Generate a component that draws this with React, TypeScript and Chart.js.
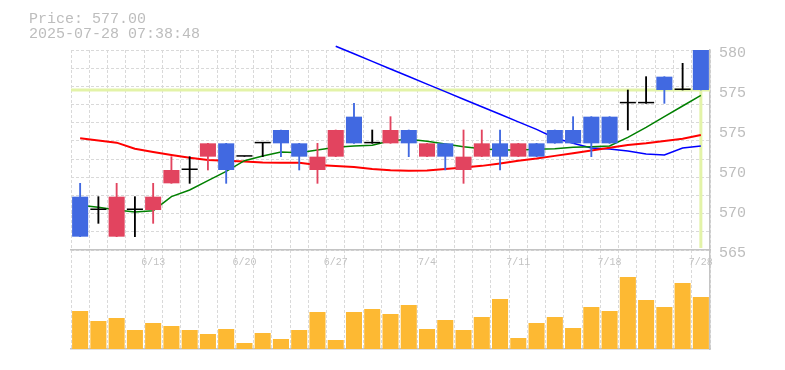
import React, { useEffect, useRef } from 'react';
import { Chart, registerables } from 'chart.js';

Chart.register(...registerables);

// ---------------- data ----------------
const dates = [
  '6/9', '6/10', '6/11', '6/12', '6/13', '6/16', '6/17', '6/18', '6/19', '6/20',
  '6/23', '6/24', '6/25', '6/26', '6/27', '6/30', '7/1', '7/2', '7/3', '7/4',
  '7/7', '7/8', '7/9', '7/10', '7/11', '7/14', '7/15', '7/16', '7/17', '7/18',
  '7/22', '7/23', '7/24', '7/25', '7/28',
];
const tickDates = ['6/13', '6/20', '6/27', '7/4', '7/11', '7/18', '7/28'];

const opens = [
  569, 568, 566, 568, 568, 570, 571, 572, 573, 572,
  573, 574, 573, 571, 572, 575, 573, 573, 574, 572,
  573, 571, 572, 573, 572, 573, 574, 574, 575, 575,
  576, 576, 578, 577, 580,
];
const highs = [
  570, 569, 570, 569, 570, 572, 572, 573, 573, 572,
  573, 574, 573, 573, 574, 576, 574, 575, 574, 573,
  573, 574, 574, 574, 573, 573, 574, 575, 575, 575,
  577, 578, 578, 579, 580,
];
const lows = [
  566, 567, 566, 566, 567, 570, 570, 571, 570, 572,
  572, 572, 571, 570, 572, 573, 573, 573, 572, 572,
  571, 570, 572, 571, 572, 572, 573, 573, 572, 573,
  574, 576, 576, 577, 577,
];
const closes = [
  566, 568, 569, 568, 569, 571, 571, 573, 571, 572,
  573, 573, 572, 572, 574, 573, 573, 574, 573, 573,
  572, 572, 573, 572, 573, 572, 573, 573, 573, 573,
  576, 576, 577, 577, 577,
];

const maShort = [
  568.35, 568.2, 568.0, 567.85, 567.95, 569.0, 569.5, 570.2, 570.9, 571.7,
  572.05, 572.35, 572.3, 572.5, 572.7, 572.8, 572.85, 573.2, 573.3, 573.15,
  572.95, 572.75, 572.6, 572.5, 572.5, 572.55, 572.6, 572.7, 572.75, 572.8,
  573.45, 574.2, 575.0, 575.8, 576.6,
];
const maMid = [
  573.38, 573.21, 573.05, 572.6, 572.35, 572.13, 571.92, 571.75, 571.7, 571.64,
  571.56, 571.55, 571.55, 571.38, 571.3, 571.22, 571.07, 570.98, 570.95, 570.96,
  571.07, 571.19, 571.31, 571.49, 571.7, 571.86, 572.06, 572.25, 572.46, 572.67,
  572.88, 573.0, 573.18, 573.35, 573.63,
];
const maLong = [
  null, null, null, null, null, null, null, null, null, null,
  null, null, null, null, 580.28, 579.72, 579.15, 578.58, 578.01, 577.44,
  576.88, 576.31, 575.74, 575.18, 574.61, 574.05, 573.4, 573.0, 572.65, 572.58,
  572.43, 572.2, 572.13, 572.65, 572.8,
];

const volumes = [
  3800, 2800, 3100, 1900, 2600, 2300, 1900, 1500, 2000, 600,
  1600, 1000, 1900, 3700, 900, 3700, 4000, 3500, 4400, 2000,
  2900, 1900, 3200, 5000, 1100, 2600, 3200, 2100, 4200, 3800,
  7200, 4900, 4200, 6600, 5200,
];

const yTickValues = [565, 568, 571, 574, 577, 580];
const yTickLabels = ['565', '570', '570', '575', '575', '580'];
const currentPrice = 577.0;
const titleLines = ['Price: 577.00', '2025-07-28 07:38:48'];

const priceMin = 565;
const priceMax = 580;
const volumeMax = 9900;

// ---------------- styles ----------------
const UP = '#e2445f';
const DOWN = '#4169e1';
const FLAT = '#000000';
const GRID = '#d9d9d9';
const AXIS = '#c4c4c4';
const TEXT = '#bdbdbd';
const MONO = '"Liberation Mono", "DejaVu Sans Mono", monospace';

const candleColors = dates.map((_, i) =>
  closes[i] > opens[i] ? UP : closes[i] < opens[i] ? DOWN : FLAT
);

const currentPricePlugin = {
  id: 'currentPrice',
  beforeDatasetsDraw(chart: any) {
    const { ctx, chartArea, scales } = chart;
    const y = scales.y.getPixelForValue(currentPrice);
    const x = scales.x.getPixelForValue(dates.length - 1);
    ctx.save();
    ctx.strokeStyle = '#e3f3a8';
    ctx.lineWidth = 3;
    ctx.beginPath();
    ctx.moveTo(chartArea.left, y);
    ctx.lineTo(chartArea.right, y);
    ctx.moveTo(x, y);
    ctx.lineTo(x, chartArea.bottom - 2);
    ctx.stroke();
    ctx.restore();
  },
};

const titlePlugin = {
  id: 'titleText',
  afterDraw(chart: any) {
    const { ctx } = chart;
    ctx.save();
    ctx.font = `15px ${MONO}`;
    ctx.fillStyle = TEXT;
    ctx.textBaseline = 'alphabetic';
    ctx.textAlign = 'left';
    ctx.fillText(titleLines[0], 29, 23);
    ctx.fillText(titleLines[1], 29, 38);
    ctx.restore();
  },
};

export default function App() {
  const priceRef = useRef<HTMLCanvasElement | null>(null);
  const volRef = useRef<HTMLCanvasElement | null>(null);

  useEffect(() => {
    const priceChart = new Chart(priceRef.current as HTMLCanvasElement, {
      type: 'bar',
      data: {
        labels: dates,
        datasets: [
          {
            type: 'bar',
            label: 'body',
            data: dates.map((_, i) => [opens[i], closes[i]]) as any,
            backgroundColor: candleColors,
            barPercentage: 0.88,
            categoryPercentage: 1,
            grouped: false,
            minBarLength: 1.5,
            order: 1,
          } as any,
          {
            type: 'bar',
            label: 'wick',
            data: dates.map((_, i) => [lows[i], highs[i]]) as any,
            backgroundColor: candleColors,
            barThickness: 1.2,
            grouped: false,
            order: 2,
          } as any,
          {
            type: 'line',
            label: 'MA short',
            data: maShort,
            borderColor: '#008000',
            borderWidth: 1.5,
            pointRadius: 0,
            tension: 0,
            order: 3,
          } as any,
          {
            type: 'line',
            label: 'MA mid',
            data: maMid,
            borderColor: '#ff0000',
            borderWidth: 2,
            pointRadius: 0,
            tension: 0,
            order: 4,
          } as any,
          {
            type: 'line',
            label: 'MA long',
            data: maLong,
            borderColor: '#0000ff',
            borderWidth: 1.5,
            pointRadius: 0,
            tension: 0,
            clip: false,
            order: 5,
          } as any,
        ],
      },
      options: {
        animation: false,
        responsive: false,
        maintainAspectRatio: false,
        layout: { padding: { top: 50, left: 0, right: 0, bottom: 0 } },
        plugins: {
          legend: { display: false },
          tooltip: { enabled: false },
          title: { display: false },
        },
        scales: {
          x: {
            type: 'category',
            offset: true,
            grid: { offset: true, color: GRID, drawTicks: false, lineWidth: 1 },
            border: { display: true, color: AXIS, width: 1.5, dash: [3, 2] },
            ticks: {
              autoSkip: false,
              maxRotation: 0,
              minRotation: 0,
              padding: 6,
              color: '#c2c2c2',
              font: { family: MONO, size: 10 },
              callback: (_v: any, i: number) => (tickDates.includes(dates[i]) ? dates[i] : ''),
            },
            afterFit: (s: any) => {
              s.height = 20;
            },
          },
          y: {
            type: 'linear',
            position: 'left',
            min: priceMin,
            max: priceMax,
            grid: { color: GRID, drawTicks: false, lineWidth: 1 },
            border: { display: false, dash: [3, 2] },
            ticks: { display: false },
            afterBuildTicks: (s: any) => {
              const n = 11;
              const t = [];
              for (let k = 0; k <= n; k++) t.push({ value: priceMin + ((priceMax - priceMin) * k) / n });
              s.ticks = t;
            },
            afterFit: (s: any) => {
              s.width = 71;
            },
          },
          yr: {
            type: 'linear',
            axis: 'y',
            position: 'right',
            min: priceMin,
            max: priceMax,
            grid: { display: false, drawTicks: false },
            border: { display: true, color: AXIS, width: 1.5 },
            ticks: {
              padding: 9,
              labelOffset: 3,
              color: TEXT,
              font: { family: MONO, size: 15 },
              callback: (v: any) => {
                const idx = yTickValues.indexOf(Number(v));
                return idx >= 0 ? yTickLabels[idx] : '';
              },
            },
            afterBuildTicks: (s: any) => {
              s.ticks = yTickValues.map((v) => ({ value: v }));
            },
            afterFit: (s: any) => {
              s.width = 75;
            },
          },
        } as any,
      },
      plugins: [currentPricePlugin, titlePlugin],
    });

    const volChart = new Chart(volRef.current as HTMLCanvasElement, {
      type: 'bar',
      data: {
        labels: dates,
        datasets: [
          {
            label: 'volume',
            data: volumes,
            backgroundColor: '#fdb933',
            barPercentage: 0.88,
            categoryPercentage: 1,
          },
        ],
      },
      options: {
        animation: false,
        responsive: false,
        maintainAspectRatio: false,
        layout: { padding: { top: 0, left: 71, right: 0, bottom: 0 } },
        plugins: { legend: { display: false }, tooltip: { enabled: false } },
        scales: {
          x: {
            type: 'category',
            offset: true,
            grid: { offset: true, color: GRID, drawTicks: false, lineWidth: 1 },
            border: { display: true, color: AXIS, width: 1.5, dash: [3, 2] },
            ticks: { display: false },
            afterFit: (s: any) => {
              s.height = 11;
            },
          },
          y: {
            type: 'linear',
            position: 'right',
            min: 0,
            max: volumeMax,
            grid: { display: false, drawTicks: false },
            border: { display: true, color: AXIS, width: 1.5 },
            ticks: { display: false },
            afterFit: (s: any) => {
              s.width = 75;
            },
          },
        } as any,
      },
    });

    return () => {
      priceChart.destroy();
      volChart.destroy();
    };
  }, []);

  return (
    <div style={{ position: 'absolute', left: 0, top: 0, width: 785, height: 370, background: '#fff' }}>
      <canvas
        ref={volRef}
        width={785}
        height={110}
        style={{ position: 'absolute', left: 0, top: 250, width: 785, height: 110 }}
      />
      <canvas
        ref={priceRef}
        width={785}
        height={270}
        style={{ position: 'absolute', left: 0, top: 0, width: 785, height: 270 }}
      />
    </div>
  );
}
